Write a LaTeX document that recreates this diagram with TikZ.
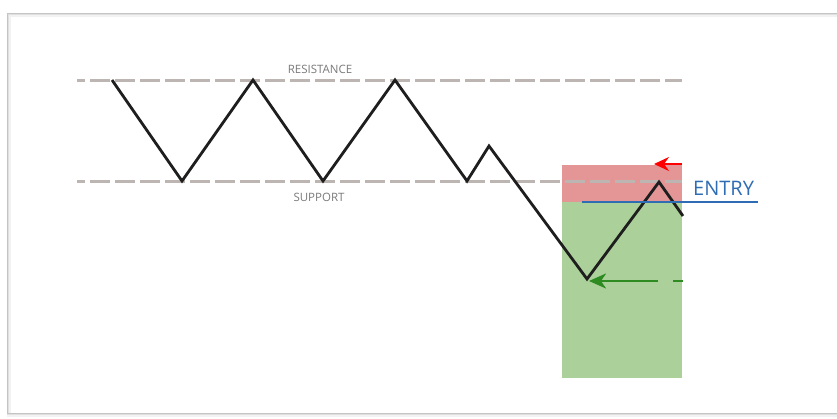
\documentclass[tikz,border=0pt]{standalone}
\usepackage{fontspec}
\setmainfont{Open Sans}
\usetikzlibrary{arrows.meta}
\definecolor{levelgray}{HTML}{BDB5B2}
\definecolor{labelgray}{HTML}{7A7A7A}
\definecolor{pricedark}{HTML}{1E1E1E}
\definecolor{stopred}{HTML}{E49595}
\definecolor{targetgreen}{HTML}{ABD09A}
\definecolor{entryblue}{HTML}{2E6DB4}
\definecolor{arrowgreen}{HTML}{2E8B22}
\definecolor{framegray}{HTML}{C4C4C4}
\tikzset{
  level/.style={draw=levelgray, line width=3pt, dash pattern=on 20pt off 5pt, dash phase=12pt},
  price/.style={draw=pricedark, line width=2.8pt, line join=miter},
  levellabel/.style={text=labelgray, font=\fontsize{11.5}{13}\selectfont, inner sep=0pt},
}
\begin{document}
\begin{tikzpicture}[x=1pt, y=-1pt]
  \useasboundingbox (0,0) rectangle (837,418);
  \fill[white] (0,0) rectangle (837,418);

  % page frame with soft shadow
  \draw[draw=black!5, line width=4pt] (9,15) rectangle (860,415);
  \draw[draw=black!12, line width=2pt] (8,14) rectangle (860,414);
  \draw[draw=framegray, line width=1pt] (7,13) rectangle (860,413);

  % stop and target zones
  \fill[stopred] (562,165) rectangle (682,202);
  \fill[targetgreen] (562,202) rectangle (682,378);

  % support and resistance levels
  \coordinate (resL) at (77,80);  \coordinate (resR) at (682,80);
  \coordinate (supL) at (77,181); \coordinate (supR) at (682,181);
  \draw[level] (resL) -- (resR);
  \draw[level] (supL) -- (supR);
  \node[levellabel] (reslabel) at (320,69) {RESISTANCE};
  \node[levellabel] (suplabel) at (319,197) {SUPPORT};

  % price path
  \coordinate (p1) at (112,80);
  \coordinate (p2) at (182,181);
  \coordinate (p3) at (253,80);
  \coordinate (p4) at (323,181);
  \coordinate (p5) at (395,80);
  \coordinate (p6) at (467,181);
  \coordinate (p7) at (489,146);
  \coordinate (p8) at (587,279);
  \coordinate (p9) at (659,182);
  \coordinate (p10) at (683,216);
  \draw[price] (p1) -- (p2) -- (p3) -- (p4) -- (p5) -- (p6) -- (p7) -- (p8) -- (p9) -- (p10);

  % entry line and label
  \coordinate (entL) at (582,202);
  \coordinate (entR) at (758,202);
  \draw[entryblue, line width=1.6pt] (entL) -- (entR);
  \node[text=entryblue, font=\fontsize{20}{22}\selectfont, anchor=south west, inner sep=0pt] (entry) at (693,195.5) {ENTRY};

  % stop arrow
  \coordinate (stopR) at (682,164);
  \coordinate (stopT) at (654,164);
  \draw[red, line width=2pt, -{Stealth[length=15pt, width=14pt, inset=5pt]}] (stopR) -- (stopT);

  % target arrow
  \coordinate (tgtR) at (683,281);
  \coordinate (tgtT) at (589,281);
  \draw[arrowgreen, line width=2.6pt, dash pattern=on 10pt off 15pt on 120pt, -{Stealth[length=17pt, width=15pt, inset=5pt]}] (tgtR) -- (tgtT);
\end{tikzpicture}
\end{document}
